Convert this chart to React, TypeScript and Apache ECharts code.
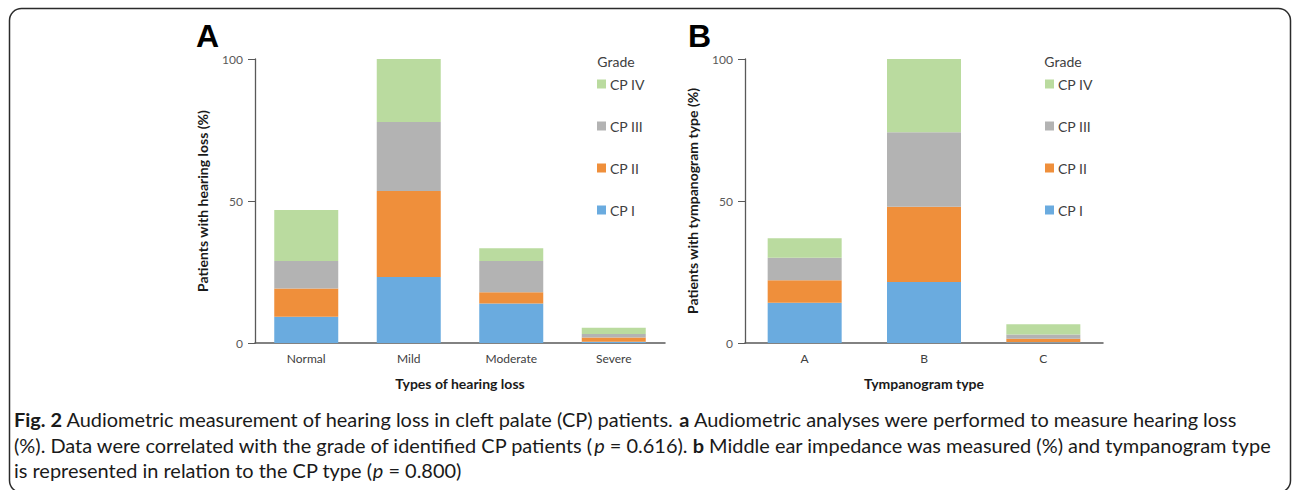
import React, { useEffect, useRef } from "react";
import * as echarts from "echarts";

const hearingTypes = ["Normal", "Mild", "Moderate", "Severe"];
const hearingCP1 = [9.2, 23.2, 13.9, 0.4];
const hearingCP2 = [10.0, 30.3, 4.0, 1.5];
const hearingCP3 = [9.7, 24.3, 11.0, 1.3];
const hearingCP4 = [17.9, 22.2, 4.5, 2.2];

const tympTypes = ["A", "B", "C"];
const tympCP1 = [14.2, 21.5, 0.3];
const tympCP2 = [7.9, 26.5, 1.2];
const tympCP3 = [7.9, 26.2, 1.5];
const tympCP4 = [6.9, 25.8, 3.6];

const gradeNames = ["CP I", "CP II", "CP III", "CP IV"];
const gradeColors = ["#6aabdf", "#ef8f3b", "#b3b3b3", "#badb9f"];
const yTicks = [0, 50, 100];

const captionLines = [
  "{b|Fig. 2} Audiometric measurement of hearing loss in cleft palate (CP) patients. {b|a} Audiometric analyses were performed to measure hearing loss",
  "(%). Data were correlated with the grade of identified CP patients ({i|p} = 0.616). {b|b} Middle ear impedance was measured (%) and tympanogram type",
  "is represented in relation to the CP type ({i|p} = 0.800)",
];

const FONT = "Lato, 'Open Sans', sans-serif";

export default function App() {
  const ref = useRef<HTMLDivElement>(null);
  useEffect(() => {
    document.body.style.margin = "0";
    const chart = echarts.init(ref.current!, null, { renderer: "svg" });

    const yAxisBase = (name: string, gi: number) => ({
      type: "value",
      gridIndex: gi,
      min: 0,
      max: 100,
      interval: 50,
      name,
      nameLocation: "middle",
      nameGap: 46,
      nameTextStyle: { fontFamily: FONT, fontWeight: "bold", fontSize: 14, color: "#1a1a1a" },
      axisLine: { show: true, lineStyle: { color: "#595959", width: 1.3 } },
      axisTick: { show: true, length: 7, lineStyle: { color: "#595959" } },
      axisLabel: {
        fontFamily: FONT,
        fontSize: 12,
        color: "#595959",
        margin: 12,
        formatter: (v: number) => (yTicks.includes(v) ? String(v) : ""),
      },
      splitLine: { show: false },
    });
    const xAxisBase = (name: string, data: string[], gi: number) => ({
      type: "category",
      gridIndex: gi,
      data,
      name,
      nameLocation: "middle",
      nameGap: 33,
      nameTextStyle: { fontFamily: FONT, fontWeight: "bold", fontSize: 14, color: "#1a1a1a" },
      axisLine: { show: true, lineStyle: { color: "#595959", width: 1.5 } },
      axisTick: { show: false },
      axisLabel: { fontFamily: FONT, fontSize: 12, color: "#404040", margin: 9 },
    });

    const mkSeries = (vals: number[][], gi: number, stack: string, bw: number) =>
      vals.map((d, i) => ({
        type: "bar",
        name: gradeNames[i],
        stack,
        xAxisIndex: gi,
        yAxisIndex: gi,
        barWidth: bw,
        data: d,
        itemStyle: { color: gradeColors[i] },
      }));

    const legendBase = (left: number) => ({
      orient: "vertical",
      left,
      top: 72,
      itemWidth: 9,
      itemHeight: 9,
      itemGap: 28,
      icon: "rect",
      data: ["CP IV", "CP III", "CP II", "CP I"],
      textStyle: { fontFamily: FONT, fontSize: 14, color: "#404040", padding: [0, 0, 0, -1] },
    });

    chart.setOption({
      animation: false,
      grid: [
        { left: 255, top: 59, width: 410, height: 284, containLabel: false },
        { left: 745, top: 59, width: 358, height: 284, containLabel: false },
      ],
      xAxis: [
        xAxisBase("Types of hearing loss", hearingTypes, 0),
        xAxisBase("Tympanogram type", tympTypes, 1),
      ],
      yAxis: [
        yAxisBase("Patients with hearing loss (%)", 0),
        yAxisBase("Patients with tympanogram type (%)", 1),
      ],
      legend: [legendBase(592), legendBase(1040)],
      series: [
        ...mkSeries([hearingCP1, hearingCP2, hearingCP3, hearingCP4], 0, "a", 64),
        ...mkSeries([tympCP1, tympCP2, tympCP3, tympCP4], 1, "b", 74),
      ],
      graphic: [
        {
          type: "rect",
          shape: { x: 9.5, y: 8.5, width: 1281, height: 484, r: 12 },
          style: { fill: "none", stroke: "#2b2b2b", lineWidth: 1.5 },
          silent: true,
        },
        {
          type: "text",
          x: 196,
          y: 20,
          style: { text: "A", font: "bold 32px 'Liberation Sans', Arial, sans-serif", fill: "#000" },
        },
        {
          type: "text",
          x: 688,
          y: 20,
          style: { text: "B", font: "bold 32px 'Liberation Sans', Arial, sans-serif", fill: "#000" },
        },
        {
          type: "text",
          x: 616,
          y: 61,
          style: { text: "Grade", font: "14px " + FONT, fill: "#404040", align: "center", verticalAlign: "middle" },
        },
        {
          type: "text",
          x: 1063,
          y: 61,
          style: { text: "Grade", font: "14px " + FONT, fill: "#404040", align: "center", verticalAlign: "middle" },
        },
        ...captionLines.map((t, i) => ({
          type: "text",
          x: 14,
          y: 420 + i * 25.5,
          scaleX: 1.05,
          style: {
            text: t,
            fontFamily: FONT,
            fontSize: 19,
            fill: "#1a1a1a",
            verticalAlign: "middle",
            rich: {
              b: { fontFamily: FONT, fontSize: 19, fontWeight: "bold", fill: "#1a1a1a" },
              i: { fontFamily: FONT, fontSize: 19, fontStyle: "italic", fill: "#1a1a1a" },
            },
          },
        })),
      ],
    });
    return () => chart.dispose();
  }, []);
  return <div ref={ref} style={{ width: 1292, height: 490 }} />;
}
